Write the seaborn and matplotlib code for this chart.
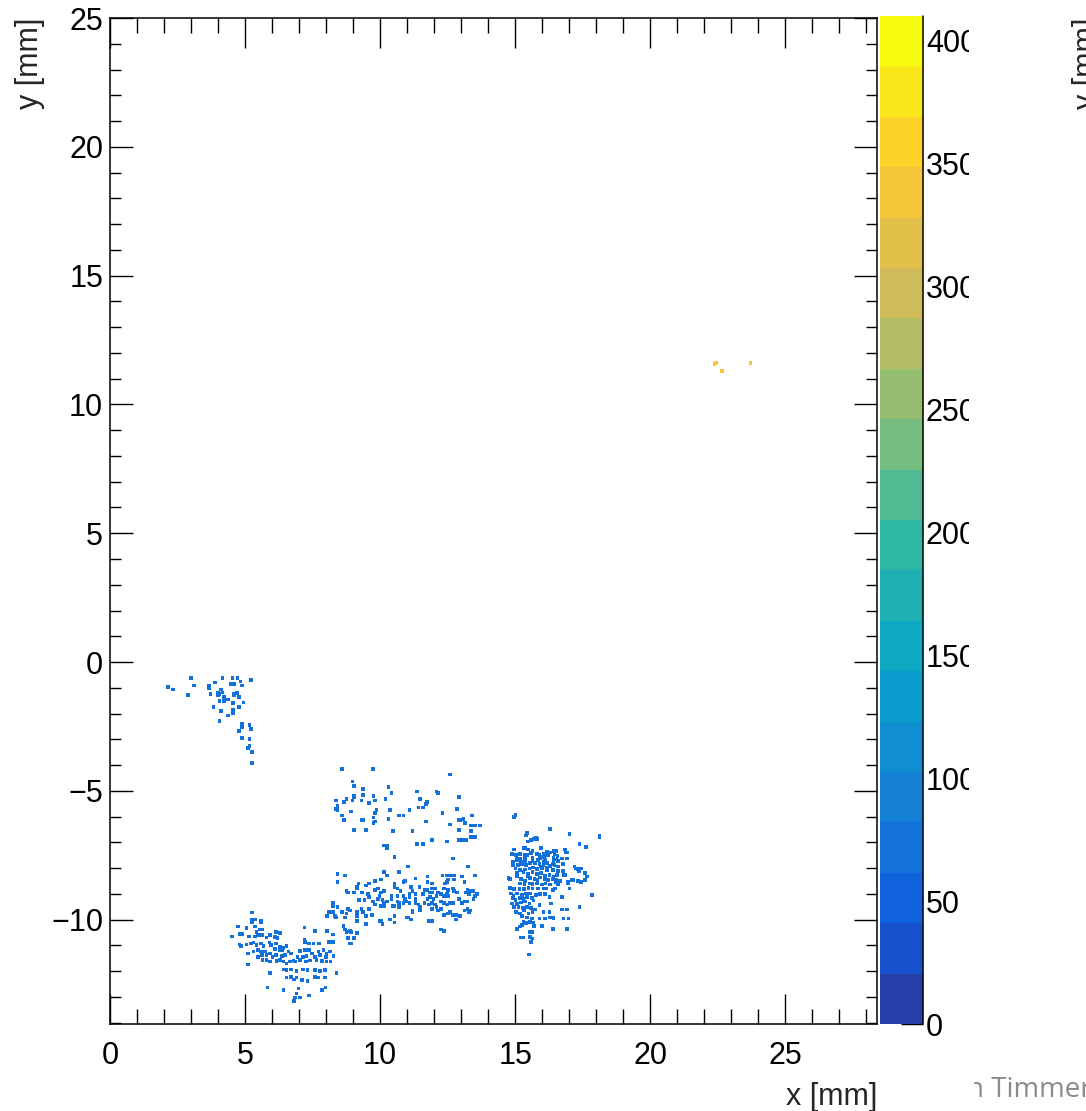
import matplotlib as mpl
import matplotlib.pyplot as plt
import pandas as pd
import seaborn as sns
from matplotlib.colors import LinearSegmentedColormap, ListedColormap, Normalize
from matplotlib.patches import Rectangle
from matplotlib.ticker import MultipleLocator

# hit positions in mm, one list per cluster
upper_left = [
    (2.16, -0.96), (2.33, -1.07), (3.00, -0.63), (3.11, -0.91), (2.89, -1.29),
    (3.67, -0.93), (3.67, -1.00), (3.89, -0.80), (4.16, -0.63), (4.54, -0.63),
    (4.72, -0.63), (4.83, -0.75), (5.21, -0.70), (4.49, -0.85), (4.60, -0.85),
    (4.88, -0.91), (4.11, -1.07), (3.99, -1.18), (4.06, -1.23), (4.17, -1.18),
    (3.72, -1.24), (4.00, -1.29), (4.60, -1.24), (4.71, -1.19), (4.60, -1.29),
    (4.78, -1.35), (4.22, -1.36), (4.28, -1.46), (4.39, -1.46), (4.05, -1.51),
    (4.22, -1.51), (4.56, -1.58), (4.94, -1.57), (3.83, -1.74), (4.77, -1.74),
    (4.56, -1.85), (4.11, -1.90), (4.56, -2.00), (4.38, -2.07), (4.05, -2.29),
    (4.88, -2.39), (4.88, -2.51), (5.16, -2.45), (5.21, -2.61), (4.77, -2.68),
    (4.88, -2.95), (5.16, -3.00), (5.16, -3.27), (5.11, -3.33), (5.27, -3.49),
    (5.27, -3.93),
]

upper_band = [
    (8.59, -4.15), (9.75, -4.15), (12.58, -4.37), (8.98, -4.64), (9.04, -4.81),
    (9.37, -4.93), (10.31, -4.86), (10.42, -5.09), (11.36, -5.03), (12.09, -5.03),
    (12.14, -5.09), (9.37, -5.15), (9.04, -5.20), (9.04, -5.26), (9.76, -5.20),
    (8.76, -5.31), (8.37, -5.37), (8.66, -5.42), (8.98, -5.37), (9.31, -5.37),
    (9.82, -5.37), (10.20, -5.31), (11.47, -5.31), (11.75, -5.42), (11.69, -5.52),
    (12.92, -5.25), (9.59, -5.48), (8.42, -5.59), (8.37, -5.70), (8.42, -5.75),
    (11.42, -5.64), (11.58, -5.64), (9.87, -5.75), (10.37, -5.75), (11.09, -5.75),
    (12.85, -5.70), (8.93, -5.80), (9.82, -5.86), (12.31, -5.86), (8.59, -5.96),
    (10.71, -5.96), (10.87, -5.96), (13.41, -5.96), (9.76, -6.03), (10.31, -6.08),
    (12.92, -6.13), (12.97, -6.13), (13.09, -6.08), (8.66, -6.13), (9.31, -6.13),
    (9.37, -6.13), (9.82, -6.19), (9.76, -6.25), (11.69, -6.19), (13.14, -6.25),
    (12.58, -6.30), (13.36, -6.35), (13.52, -6.35), (13.69, -6.35), (9.04, -6.52),
    (9.48, -6.52), (10.48, -6.57), (11.20, -6.57), (12.92, -6.52), (13.36, -6.57),
    (13.36, -6.79), (13.52, -6.79), (11.92, -6.90), (12.47, -6.96), (12.92, -6.90),
    (13.08, -6.90), (13.19, -6.90), (10.14, -7.12), (10.26, -7.12), (10.26, -7.24),
    (11.36, -7.06), (11.58, -7.06), (10.53, -7.56), (12.69, -7.62), (11.03, -7.94),
    (13.25, -7.94),
]

middle_band = [
    (8.42, -8.23), (8.71, -8.28), (10.15, -8.16), (10.26, -8.28), (10.71, -8.16),
    (11.76, -8.33), (12.31, -8.28), (12.47, -8.28), (12.58, -8.28), (12.74, -8.28),
    (13.03, -8.33), (13.52, -8.28), (8.42, -8.55), (9.82, -8.49), (10.04, -8.44),
    (10.53, -8.60), (10.53, -8.72), (10.87, -8.55), (10.92, -8.49), (11.31, -8.40),
    (11.76, -8.55), (11.92, -8.60), (12.52, -8.44), (12.41, -8.60), (12.47, -8.55),
    (12.74, -8.44), (13.13, -8.55), (9.59, -8.60), (9.48, -8.67), (9.20, -8.60),
    (9.15, -8.72), (9.15, -8.79), (9.82, -8.84), (9.93, -8.79), (10.64, -8.79),
    (11.14, -8.72), (11.46, -8.72), (11.64, -8.84), (11.76, -8.84), (11.92, -8.79),
    (12.03, -8.79), (12.14, -8.95), (11.92, -8.95), (11.85, -8.95), (12.36, -8.79),
    (12.52, -8.84), (12.69, -8.79), (12.74, -8.90), (8.76, -8.90), (8.82, -8.95),
    (9.04, -8.95), (9.32, -8.95), (9.55, -9.01), (9.59, -9.12), (10.04, -8.95),
    (10.15, -8.90), (10.76, -8.90), (11.09, -9.01), (11.20, -8.90), (11.31, -9.01),
    (11.59, -9.01), (12.09, -9.08), (12.25, -9.01), (12.36, -9.08), (12.47, -9.01),
    (12.85, -8.95), (13.24, -8.84), (13.35, -8.90), (13.46, -8.90), (13.19, -8.95),
    (13.30, -9.01), (13.52, -9.07), (13.58, -9.01), (9.42, -9.24), (9.21, -9.24),
    (9.75, -9.30), (9.93, -9.19), (9.82, -9.41), (9.98, -9.07), (10.09, -9.24),
    (10.42, -9.07), (10.42, -9.19), (10.64, -9.07), (10.87, -9.07), (10.92, -9.19),
    (11.09, -9.12), (11.31, -9.19), (11.76, -9.19), (11.85, -9.13), (11.98, -9.19),
    (12.52, -9.07), (12.25, -9.30), (12.92, -9.19), (13.24, -9.30), (13.46, -9.19),
    (10.15, -9.35), (10.26, -9.30), (10.71, -9.35), (10.64, -9.30), (10.87, -9.35),
    (10.98, -9.30), (11.09, -9.35), (11.31, -9.35), (11.42, -9.41), (11.64, -9.35),
    (11.80, -9.41), (11.92, -9.35), (12.03, -9.41), (12.36, -9.35), (12.47, -9.41),
    (12.58, -9.35), (12.69, -9.35), (13.03, -9.35), (13.13, -9.30), (8.26, -9.35),
    (8.26, -9.47), (8.42, -9.52), (8.82, -9.59), (8.88, -9.64), (9.15, -9.70),
    (9.37, -9.70), (9.31, -9.59), (9.59, -9.59), (10.04, -9.47), (10.15, -9.47),
    (10.48, -9.47), (10.53, -9.47), (10.71, -9.52), (11.20, -9.64), (11.20, -9.70),
    (11.47, -9.52), (11.47, -9.64), (11.92, -9.59), (12.14, -9.64), (12.25, -9.59),
    (12.09, -9.52), (12.36, -9.81), (12.52, -9.76), (12.58, -9.70), (12.69, -9.81),
    (12.80, -9.81), (13.13, -9.64), (13.24, -9.59), (13.30, -9.70), (13.35, -9.64),
    (12.96, -9.87), (12.80, -9.99), (8.10, -9.70), (8.26, -9.70), (8.04, -9.87),
    (8.32, -9.87), (8.37, -9.92), (8.59, -9.70), (8.76, -9.76), (8.71, -9.92),
    (9.15, -9.87), (9.48, -9.87), (9.71, -9.81), (9.15, -10.04), (9.48, -10.16),
    (9.98, -10.04), (10.09, -10.16), (10.04, -10.04), (10.37, -9.99), (10.53, -9.87),
    (10.53, -10.11), (10.98, -9.92), (11.03, -9.92), (11.14, -9.99), (11.80, -10.04),
    (11.92, -10.04), (12.25, -10.38), (12.36, -10.44), (8.04, -10.43), (8.26, -10.58),
    (8.64, -10.25), (8.71, -10.38), (8.88, -10.43), (8.93, -10.48), (8.76, -10.48),
    (8.82, -10.70), (9.04, -10.70), (9.15, -10.53), (8.10, -10.86), (8.26, -10.86),
    (8.88, -10.92), (8.93, -10.92),
]

right_blob = [
    (15.01, -5.93), (14.96, -6.02), (16.30, -6.47), (17.01, -6.68), (15.44, -6.64),
    (15.41, -6.73), (18.12, -6.73), (18.12, -6.78), (15.58, -6.90), (15.69, -6.86),
    (15.78, -6.81), (15.80, -6.86), (15.47, -6.96), (17.39, -7.06), (17.62, -7.18),
    (14.95, -7.28), (15.31, -7.23), (15.36, -7.23), (15.47, -7.28), (15.96, -7.23),
    (16.84, -7.28), (15.65, -7.34), (16.17, -7.36), (16.30, -7.39), (16.42, -7.34),
    (16.52, -7.34), (16.86, -7.39), (16.93, -7.39), (14.89, -7.45), (15.04, -7.49),
    (15.18, -7.45), (15.36, -7.47), (15.46, -7.49), (15.58, -7.41), (15.82, -7.45),
    (15.90, -7.49), (16.05, -7.43), (16.12, -7.48), (16.23, -7.48), (16.46, -7.47),
    (16.57, -7.53), (15.06, -7.62), (15.18, -7.62), (15.36, -7.60), (15.65, -7.60),
    (15.93, -7.61), (15.99, -7.56), (16.09, -7.58), (16.42, -7.60), (16.52, -7.66),
    (16.73, -7.62), (16.93, -7.62), (14.91, -7.74), (15.06, -7.69), (15.21, -7.75),
    (15.36, -7.72), (15.53, -7.79), (15.65, -7.72), (15.86, -7.69), (16.05, -7.75),
    (16.11, -7.69), (16.17, -7.79), (16.42, -7.75), (16.60, -7.72), (14.91, -7.87),
    (15.10, -7.89), (15.25, -7.84), (15.41, -7.89), (15.56, -7.81), (15.73, -7.80),
    (15.90, -7.84), (15.95, -7.93), (16.05, -7.88), (16.17, -7.97), (16.30, -7.92),
    (16.38, -7.84), (16.46, -7.89), (16.58, -7.93), (16.78, -7.85), (17.20, -7.94),
    (17.26, -8.01), (17.32, -8.04), (17.43, -8.01), (17.36, -8.10), (15.01, -8.01),
    (15.18, -8.07), (15.37, -8.05), (15.53, -8.01), (15.67, -7.98), (15.82, -8.04),
    (15.99, -8.02), (16.17, -8.07), (16.40, -8.07), (16.58, -8.10), (16.77, -8.10),
    (15.06, -8.18), (15.31, -8.14), (15.47, -8.23), (15.64, -8.16), (15.80, -8.23),
    (15.97, -8.18), (16.11, -8.31), (16.27, -8.27), (16.42, -8.33), (16.55, -8.27),
    (16.81, -8.27), (16.86, -8.27), (17.60, -8.20), (17.67, -8.33), (14.75, -8.37),
    (14.81, -8.42), (15.06, -8.33), (15.22, -8.41), (15.37, -8.49), (15.47, -8.33),
    (15.56, -8.38), (15.72, -8.42), (15.83, -8.46), (15.93, -8.36), (16.11, -8.44),
    (16.23, -8.46), (16.38, -8.42), (16.52, -8.46), (16.67, -8.49), (16.95, -8.55),
    (17.09, -8.46), (17.16, -8.46), (17.33, -8.49), (17.45, -8.55), (17.60, -8.46),
    (15.18, -8.59), (15.35, -8.63), (15.53, -8.59), (15.65, -8.62), (15.80, -8.59),
    (16.00, -8.64), (16.12, -8.59), (16.30, -8.63), (16.49, -8.56), (16.60, -8.62),
    (16.95, -8.59), (14.81, -8.76), (14.96, -8.82), (15.16, -8.80), (15.33, -8.82),
    (15.49, -8.76), (15.65, -8.79), (15.86, -8.79), (16.07, -8.79), (16.15, -8.79),
    (16.40, -8.85), (16.48, -8.79), (17.01, -8.79), (14.86, -8.98), (14.94, -9.08),
    (15.06, -8.98), (15.25, -9.04), (15.41, -8.98), (15.56, -8.98), (15.78, -9.04),
    (15.93, -9.01), (16.11, -9.01), (16.27, -9.11), (17.84, -9.04), (14.91, -9.17),
    (15.01, -9.24), (15.18, -9.17), (15.31, -9.21), (15.43, -9.13), (15.62, -9.17),
    (16.73, -9.11), (14.88, -9.37), (15.06, -9.39), (15.21, -9.34), (15.37, -9.30),
    (15.53, -9.37), (15.68, -9.26), (14.96, -9.52), (15.12, -9.50), (15.28, -9.56),
    (15.43, -9.50), (15.58, -9.56), (15.74, -9.60), (15.90, -9.43), (16.33, -9.37),
    (16.73, -9.60), (16.91, -9.60), (17.39, -9.52), (15.04, -9.70), (15.18, -9.76),
    (15.33, -9.65), (15.49, -9.76), (15.65, -9.70), (16.05, -9.70), (16.27, -9.70),
    (16.30, -9.91), (15.25, -9.86), (15.43, -9.91), (15.62, -9.95), (15.90, -9.96),
    (16.11, -9.96), (16.40, -9.91), (16.42, -9.96), (16.79, -9.96), (16.98, -9.96),
    (15.31, -10.08), (15.41, -10.14), (15.56, -10.08), (15.68, -10.12), (15.69, -10.25),
    (15.25, -10.21), (15.18, -10.27), (15.99, -10.25), (16.40, -10.36), (16.91, -10.35),
    (15.06, -10.35), (15.53, -10.47), (15.64, -10.48), (15.21, -10.69), (15.31, -10.69),
    (15.56, -10.66), (15.64, -10.73), (15.58, -10.86), (15.52, -11.35),
]

lower_left = [
    (5.27, -9.72), (5.27, -9.99), (5.37, -9.99), (5.27, -10.11), (5.60, -10.05),
    (5.60, -10.11), (4.75, -10.27), (5.06, -10.33), (5.37, -10.27), (5.56, -10.38),
    (5.65, -10.38), (4.51, -10.65), (4.79, -10.55), (4.89, -10.55), (5.14, -10.65),
    (5.37, -10.65), (5.43, -10.47), (5.49, -10.60), (5.62, -10.60), (5.80, -10.69),
    (5.93, -10.60), (6.15, -10.48), (6.30, -10.53), (6.10, -10.66), (6.20, -10.70),
    (4.79, -10.96), (4.84, -11.01), (5.06, -10.96), (5.21, -10.92), (5.31, -10.89),
    (5.43, -10.98), (5.60, -10.92), (5.68, -11.01), (5.90, -10.89), (5.95, -10.98),
    (6.14, -10.92), (6.30, -11.05), (6.42, -11.11), (6.54, -11.02), (5.12, -11.31),
    (5.31, -11.24), (5.49, -11.18), (5.59, -11.24), (5.74, -11.24), (5.93, -11.31),
    (6.11, -11.15), (6.30, -11.18), (6.37, -11.18), (6.61, -11.24), (6.69, -11.31),
    (6.38, -11.41), (6.49, -11.37), (5.49, -11.44), (5.62, -11.37), (5.80, -11.37),
    (6.02, -11.44), (6.15, -11.37), (7.20, -10.31), (7.20, -10.77), (7.22, -10.86),
    (7.37, -10.92), (7.53, -10.92), (7.75, -10.92), (7.59, -10.43), (7.04, -11.21),
    (7.22, -11.18), (7.38, -11.18), (7.48, -11.31), (7.72, -11.24), (7.90, -11.18),
    (8.02, -11.31), (8.15, -11.24), (6.94, -11.44), (7.14, -11.46), (7.28, -11.41),
    (7.60, -11.44), (7.78, -11.37), (8.00, -11.44), (8.27, -11.41), (8.17, -11.63),
    (5.65, -11.57), (5.80, -11.57), (5.93, -11.63), (6.17, -11.61), (6.30, -11.57),
    (6.42, -11.63), (6.54, -11.70), (6.67, -11.63), (6.79, -11.59), (6.85, -11.63),
    (7.04, -11.57), (7.26, -11.63), (7.41, -11.59), (7.65, -11.57), (7.84, -11.61),
    (8.02, -11.63), (5.11, -11.74), (5.93, -12.06), (5.83, -12.63), (6.42, -11.93),
    (6.54, -11.96), (6.69, -11.93), (6.91, -11.98), (7.14, -11.93), (7.31, -11.96),
    (7.59, -11.96), (7.78, -11.98), (7.96, -11.96), (6.54, -12.24), (6.69, -12.22),
    (6.81, -12.32), (6.91, -12.24), (7.10, -12.34), (7.31, -12.37), (7.59, -12.22),
    (7.72, -12.24), (7.96, -12.24), (6.42, -12.73), (6.98, -12.67), (6.91, -12.86),
    (6.85, -13.02), (6.81, -13.15), (7.04, -13.02), (7.38, -12.95), (7.84, -12.73),
    (7.98, -12.63), (8.39, -12.06),
]

hot_spot = [(22.38, 11.57), (22.44, 11.62), (22.65, 11.30), (23.72, 11.62)]

blue_counts = 70
hot_counts = 340
z_max = 410
n_levels = 20
cbar_ticks = [0, 50, 100, 150, 200, 250, 300, 350, 400]

# ROOT kBird palette
bird_stops = [0.0, 0.125, 0.25, 0.375, 0.5, 0.625, 0.75, 0.875, 1.0]
bird_r = [0.2082, 0.0592, 0.0780, 0.0232, 0.1802, 0.5301, 0.8186, 0.9956, 0.9764]
bird_g = [0.1664, 0.3599, 0.5041, 0.6419, 0.7178, 0.7492, 0.7328, 0.7862, 0.9832]
bird_b = [0.5293, 0.8684, 0.8385, 0.7914, 0.6425, 0.4662, 0.3499, 0.1968, 0.0539]

bird = LinearSegmentedColormap.from_list(
    "bird", list(zip(bird_stops, zip(bird_r, bird_g, bird_b))))
cmap = ListedColormap([bird((i + 0.99) / n_levels) for i in range(n_levels)])
norm = Normalize(0, z_max)

frames = []
for pts, val in [(upper_left, blue_counts), (upper_band, blue_counts),
                 (middle_band, blue_counts), (right_blob, blue_counts),
                 (lower_left, blue_counts), (hot_spot, hot_counts)]:
    d = pd.DataFrame(pts, columns=["x", "y"])
    d["counts"] = val
    frames.append(d)
df = pd.concat(frames, ignore_index=True)

sns.set_style("ticks")
plt.rcParams["font.family"] = ["Liberation Sans", "DejaVu Sans"]
plt.rcParams["axes.edgecolor"] = "black"

W, H = 1086, 1111
fig = plt.figure(figsize=(W / 100, H / 100), dpi=100)
ax = fig.add_axes([110 / W, 87 / H, 767 / W, 1006 / H])
cax = fig.add_axes([880 / W, 87 / H, 43 / W, 1008 / H])

sns.scatterplot(data=df, x="x", y="y", hue="counts", palette=cmap, hue_norm=norm,
                marker="s", s=7, linewidth=0, legend=False, ax=ax)

ax.set_xlim(0, 28.4)
ax.set_ylim(-14.05, 25)
ax.xaxis.set_major_locator(MultipleLocator(5))
ax.xaxis.set_minor_locator(MultipleLocator(1))
ax.yaxis.set_major_locator(MultipleLocator(5))
ax.yaxis.set_minor_locator(MultipleLocator(1))
ax.tick_params(which="both", direction="in", top=True, right=True, colors="black",
               width=1, labelsize=22)
ax.tick_params(axis="x", which="major", length=21.5, pad=12)
ax.tick_params(axis="x", which="minor", length=10.5)
ax.tick_params(axis="y", which="major", length=16.5, pad=5)
ax.tick_params(axis="y", which="minor", length=8)
for sp in ax.spines.values():
    sp.set_linewidth(1.1)
ax.set_xlabel("x [mm]", loc="right", fontsize=22, labelpad=8)
ax.set_ylabel("y [mm]", loc="top", fontsize=22, labelpad=4)

cb = fig.colorbar(mpl.cm.ScalarMappable(norm=norm, cmap=cmap), cax=cax)
cb.outline.set_visible(False)
cb.set_ticks(cbar_ticks)
cax.minorticks_off()
cax.tick_params(axis="y", direction="in", length=16, width=1, pad=2,
                labelsize=22, colors="black")
cax.plot([1, 1], [0, 1], transform=cax.transAxes, color="black", lw=1.1,
         clip_on=False)

# neighbouring pad, cut off at the edge of the screenshot
fig.text(1072 / W, 1 - 18 / H, "y [mm]", rotation=90, ha="left", va="top",
         fontsize=22)
fig.text(967 / W, 1 - 1097 / H, "n Timmer", color="#8a8a8a", fontsize=20,
         family=["Open Sans", "DejaVu Sans"], ha="left", va="baseline")

# the screenshot crops the palette labels and the credit line
fig.add_artist(Rectangle((969 / W, 61 / H), 90 / W, 1 - 61 / H,
                         transform=fig.transFigure, facecolor="white",
                         edgecolor="none", zorder=10))
fig.add_artist(Rectangle((880 / W, 0), 94 / W, 60 / H,
                         transform=fig.transFigure, facecolor="white",
                         edgecolor="none", zorder=10))

fig.savefig("out.png", dpi=100)
